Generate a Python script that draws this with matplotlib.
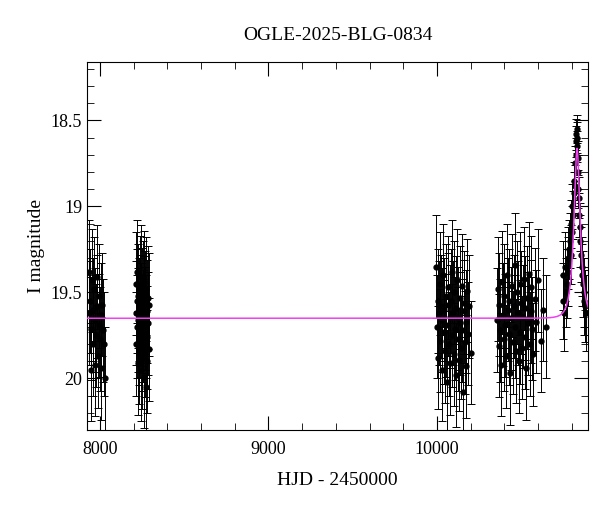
import numpy as np
import matplotlib
matplotlib.use("Agg")
import matplotlib.pyplot as plt
from matplotlib.ticker import MultipleLocator

t1 = [7932,7936,7940,7944,7948,7952,7956,7960,7964,7968,7972,7976,7980,7984,7988,7992,7996,8000,8004,8008,8012,8018,8024,8032]
m1 = [19.38,19.62,19.55,19.95,19.71,19.43,19.80,19.60,19.48,19.92,19.66,19.75,19.58,19.41,19.87,19.69,19.52,19.77,19.63,19.94,19.57,19.72,19.80,20.00]
t2 = [8212,8214,8216,8218,8220,8222,8224,8226,8228,8230,8232,8234,8236,8238,8240,8242,8244,8246,8248,8250,
      8252,8254,8256,8258,8260,8262,8264,8266,8268,8270,8272,8274,8276,8278,8280,8282,8284,8286,8288,8290]
m2 = [19.62,19.45,19.80,19.55,19.70,19.38,19.91,19.66,19.52,19.74,19.60,19.85,19.47,19.69,19.58,19.95,19.63,19.41,19.77,19.54,
      19.88,19.67,19.50,19.72,19.99,19.59,19.44,19.81,19.65,19.56,20.05,19.70,19.48,19.76,19.61,19.90,19.53,19.68,19.83,19.57]
t3 = [9995,9999,10003,10007,10011,10015,10019,10023,10027,10031,10035,10039,10043,10047,10051,10055,10059,10063,10067,10071,
      10075,10079,10083,10087,10091,10095,10099,10103,10107,10111,10115,10119,10123,10127,10131,10135,10139,10143,10147,10151,
      10155,10159,10163,10167,10171,10175,10180,10186,10192,10199]
m3 = [19.35,19.70,19.55,19.88,19.62,19.45,19.78,19.58,19.95,19.66,19.40,19.73,19.60,19.84,19.52,19.69,20.02,19.57,19.47,19.80,
      19.64,19.91,19.55,19.38,19.75,19.62,19.86,19.50,19.71,19.98,19.59,19.43,19.77,19.65,19.89,19.53,19.68,19.82,19.46,19.72,
      20.08,19.61,19.56,19.79,19.67,19.93,19.49,19.74,19.58,19.85]
t4 = [10355,10360,10365,10370,10375,10380,10385,10390,10395,10400,10405,10410,10415,10420,10425,10430,10435,10440,10445,10450,
      10455,10460,10465,10470,10475,10480,10485,10490,10495,10500,10505,10510,10515,10520,10525,10530,10535,10540,10545,10550,
      10555,10560,10565,10570,10580,10590,10600,10615,10630,10645]
m4 = [19.66,19.48,19.81,19.57,19.72,19.92,19.44,19.63,19.77,19.52,19.69,19.87,19.40,19.60,19.74,19.55,19.97,19.65,19.46,19.79,
      19.58,19.34,19.70,19.84,19.50,19.62,19.90,19.45,19.73,19.56,19.82,19.64,19.42,19.76,19.59,19.94,19.53,19.68,19.39,19.80,
      19.61,19.47,19.71,19.86,19.54,19.67,19.43,19.78,19.60,19.70]
t5 = [10745,10750,10755,10760,10765,10770,10775,10780,10785,10790,10795,10798,10801,10804,10807,10810,10813,10816,10819,10822,
      10825,10827,10829,10831,10833,10835,10837,10839,10841,10844,10847,10850,10854,10858,10862,10866,10870,10875,10880,10885]
m5 = [19.55,19.40,19.62,19.35,19.50,19.45,19.30,19.38,19.25,19.20,19.28,19.10,19.15,19.00,19.05,18.92,18.85,18.88,18.75,18.70,
      18.62,18.58,18.55,18.60,18.65,18.72,18.80,18.90,18.95,19.05,19.12,19.20,19.28,19.35,19.40,19.45,19.50,19.55,19.58,19.62]
e5 = [0.22,0.2,0.22,0.2,0.2,0.2,0.18,0.2,0.17,0.16,0.17,0.14,0.15,0.13,0.14,0.12,0.11,0.12,0.1,0.1,
      0.09,0.09,0.08,0.09,0.09,0.1,0.1,0.11,0.12,0.13,0.14,0.15,0.16,0.17,0.18,0.19,0.2,0.2,0.21,0.22]
err_faint = 0.3

# PSPL model parameters
t0, tE, u0, base = 10831.0, 34.0, 0.43, 19.65

plt.rcParams["font.family"] = "Liberation Serif"
fig = plt.figure(figsize=(6, 5.12), dpi=100)
ax = fig.add_axes([0.145, 0.16, 0.835, 0.719])

for t, m in [(t1, m1), (t2, m2), (t3, m3), (t4, m4)]:
    ax.errorbar(t, m, yerr=err_faint, fmt='o', color='black', ms=3.5, elinewidth=0.7, capsize=3, capthick=0.7)
ax.errorbar(t5, m5, yerr=e5, fmt='o', color='black', ms=3.5, elinewidth=0.7, capsize=3, capthick=0.7)

tt = np.linspace(7900, 10900, 3000)
u = np.sqrt(u0**2 + ((tt - t0) / tE)**2)
A = (u**2 + 2) / (u * np.sqrt(u**2 + 4))
ax.plot(tt, base - 2.5 * np.log10(A), color='#f040f0', lw=1.1, zorder=5)

ax.set_xlim(7923, 10896)
ax.set_ylim(20.3, 18.16)
ax.xaxis.set_major_locator(MultipleLocator(1000))
ax.xaxis.set_minor_locator(MultipleLocator(200))
ax.yaxis.set_major_locator(MultipleLocator(0.5))
ax.yaxis.set_minor_locator(MultipleLocator(0.1))
ax.yaxis.set_major_formatter(matplotlib.ticker.FuncFormatter(lambda v, p: f"{v:g}"))
ax.tick_params(which='both', direction='in', top=True, right=True, labelsize=13)
ax.tick_params(which='major', length=10)
ax.tick_params(which='minor', length=5)
ax.tick_params(axis='x', pad=8)
ax.set_xlabel("HJD - 2450000", fontsize=14, labelpad=10)
ax.set_ylabel("I magnitude", fontsize=14)
ax.set_title("OGLE-2025-BLG-0834", fontsize=14, pad=16)
fig.savefig("out.png", dpi=100)
